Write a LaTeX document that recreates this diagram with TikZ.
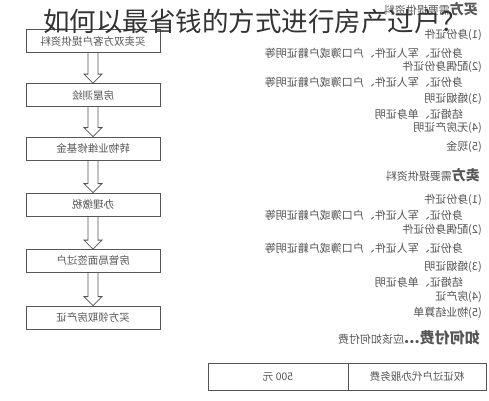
\documentclass[tikz,border=0pt]{standalone}
\usepackage{fontspec}
\usepackage{graphicx}
\setmainfont{Noto Sans CJK SC}
\usetikzlibrary{calc}
\definecolor{scan}{HTML}{555555}
\definecolor{titlegray}{HTML}{333333}
\newcommand{\flip}[1]{\reflectbox{#1}}
\tikzset{
    flowbox/.style={
    rectangle,draw=scan,line width=0.8pt,minimum width=134pt,minimum height=23pt,inner sep=0pt,
    font=\fontsize{10.5}{12}\selectfont,text=scan
    },
    hollowarrow/.style={
    draw=scan,line width=0.8pt,
    to path={let \p1=(\tikztostart),\p2=(\tikztotarget) in
      (\x1-5pt,\y1) -- (\x1-5pt,\y2+9pt) -- (\x1-9pt,\y2+9pt) -- (\x1,\y2)
      -- (\x1+9pt,\y2+9pt) -- (\x1+5pt,\y2+9pt) -- (\x1+5pt,\y1)}
    },
    item/.style={
    anchor=east,inner sep=0pt,font=\fontsize{11}{12}\selectfont,text=scan
    },
    head/.style={
    anchor=east,inner sep=0pt,font=\fontsize{11}{12}\selectfont,text=scan
    },
    cell/.style={
    rectangle,draw=scan,line width=0.8pt,minimum height=27pt,inner sep=0pt,
    font=\fontsize{10.5}{12}\selectfont,text=scan
    },
}

\begin{document}
\begin{tikzpicture}[x=1pt,y=-1pt]
   \useasboundingbox[fill=white] (0,0) rectangle (489,400);
   % flow of the transfer
   \node[flowbox] (s1) at (93,41) {\flip{买卖双方客户提供资料}};
   \node[flowbox] (s2) at (93,95) {\flip{房屋测绘}};
   \node[flowbox] (s3) at (93,148.5) {\flip{转物业维修基金}};
   \node[flowbox] (s4) at (93,204.5) {\flip{办理缴税}};
   \node[flowbox] (s5) at (93,261) {\flip{房管局面签过户}};
   \node[flowbox] (s6) at (93,317.5) {\flip{买方领取房产证}};
   \foreach \a/\b in {s1/s2,s2/s3,s3/s4,s4/s5,s5/s6}
     \draw[hollowarrow] (\a.south) to (\b.north);

   % buyer
   \node[head] (bh) at (478,9) {\flip{{\fontsize{14}{14}\selectfont\bfseries 买方}需要提供资料}};
   \node[item] (b1) at (482,35) {\flip{(1)身份证件}};
   \node[item] (b1a) at (463,53) {\flip{身份证、军人证件、户口簿或户籍证明等}};
   \node[item] (b2) at (482,67) {\flip{(2)配偶身份证件}};
   \node[item] (b2a) at (463,82) {\flip{身份证、军人证件、户口簿或户籍证明等}};
   \node[item] (b3) at (482,99) {\flip{(3)婚姻证明}};
   \node[item] (b3a) at (463,114) {\flip{结婚证、单身证明}};
   \node[item] (b4) at (482,128) {\flip{(4)无房产证明}};
   \node[item] (b5) at (482,147) {\flip{(5)现金}};

   % seller
   \node[head] (sh) at (480,175) {\flip{{\fontsize{14}{14}\selectfont\bfseries 卖方}需要提供资料}};
   \node[item] (c1) at (482,200) {\flip{(1)身份证件}};
   \node[item] (c1a) at (463,215) {\flip{身份证、军人证件、户口簿或户籍证明等}};
   \node[item] (c2) at (482,230) {\flip{(2)配偶身份证件}};
   \node[item] (c2a) at (463,248) {\flip{身份证、军人证件、户口簿或户籍证明等}};
   \node[item] (c3) at (482,267) {\flip{(3)婚姻证明}};
   \node[item] (c3a) at (463,282) {\flip{结婚证、单身证明}};
   \node[item] (c4) at (482,297) {\flip{(4)房产证}};
   \node[item] (c5) at (482,313) {\flip{(5)物业结算单}};

   % fee
   \node[head] (ph) at (480,338) {\flip{{\fontsize{15}{15}\selectfont\bfseries 如何付费...}应该如何付费}};
   \node[cell,minimum width=138pt] (fee) at (417,376.5) {\flip{权证过户代办服务费}};
   \node[cell,minimum width=140pt] (amt) at (278,376.5) {\flip{500 元}};

   \node[text=titlegray,font=\fontsize{26.5}{28}\selectfont,inner sep=0pt] (title) at (255,21) {如何以最省钱的方式进行房产过户？};
\end{tikzpicture}
\end{document}
